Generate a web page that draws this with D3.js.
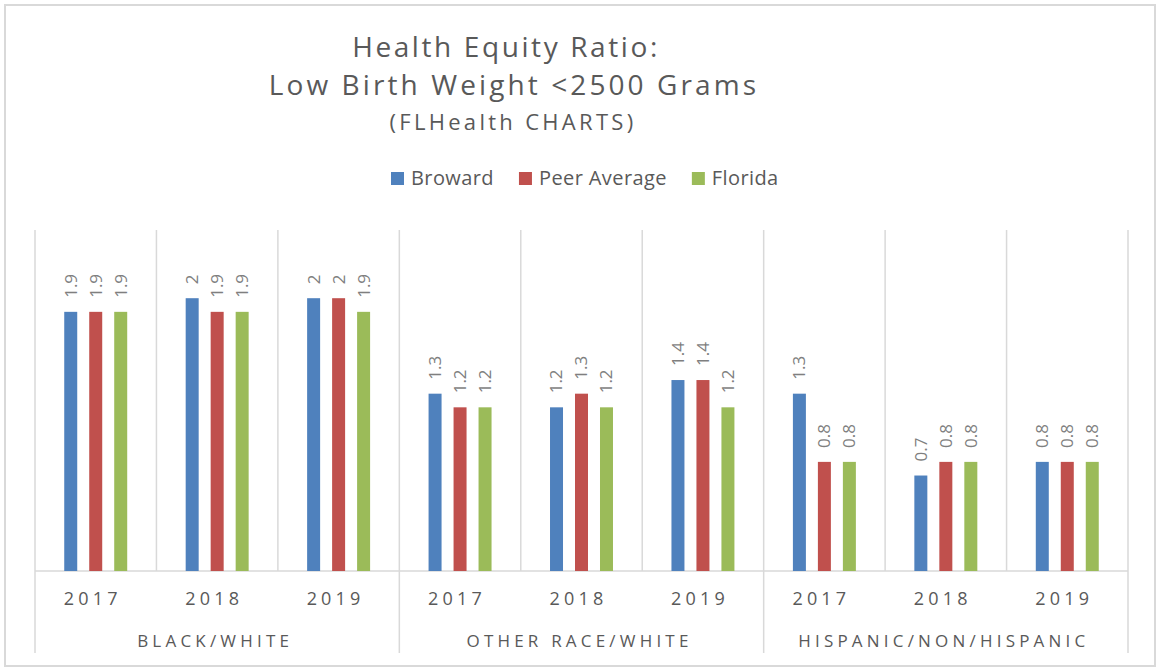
<!DOCTYPE html>
<html>
<head>
<meta charset="utf-8">
<script src="https://cdn.jsdelivr.net/npm/d3@7"></script>
<style>
  html, body { margin: 0; padding: 0; background: #ffffff; }
  svg { display: block; font-family: "Open Sans", "Liberation Sans", sans-serif; }
</style>
</head>
<body>
<svg id="chart" width="1159" height="667"></svg>
<script>
// Category structure
const groups = ["BLACK/WHITE", "OTHER RACE/WHITE", "HISPANIC/NON/HISPANIC"];
const years = ["2017", "2018", "2019"];
const seriesNames = ["Broward", "Peer Average", "Florida"];

// Health equity ratio per group/year (BLACK/WHITE 2017..2019, OTHER RACE/WHITE ..., HISPANIC ...)
const broward     = [1.9, 2.0, 2.0, 1.3, 1.2, 1.4, 1.3, 0.7, 0.8];
const peerAverage = [1.9, 1.9, 2.0, 1.2, 1.3, 1.4, 0.8, 0.8, 0.8];
const florida     = [1.9, 1.9, 1.9, 1.2, 1.2, 1.2, 0.8, 0.8, 0.8];

const titleLines = ["Health Equity Ratio:", "Low Birth Weight <2500 Grams", "(FLHealth CHARTS)"];

const colors = ["#4f81bd", "#c0504d", "#9bbb59"];
const seriesValues = [broward, peerAverage, florida];

// Flattened rows: one per group/year slot
const rows = [];
groups.forEach((g, gi) => {
  years.forEach((yr, yi) => {
    const i = gi * years.length + yi;
    rows.push({
      key: g + "|" + yr, group: g, year: yr,
      values: seriesNames.map((s, si) => ({ series: s, value: seriesValues[si][i], color: colors[si] }))
    });
  });
});

const svg = d3.select("#chart");
const plot = { left: 35, right: 1128, top: 230, bottom: 571 };
const gridColor = "#d9d9d9";
const textColor = "#595959";

// Outer chart border
svg.append("rect")
  .attr("x", 5).attr("y", 5).attr("width", 1150).attr("height", 661)
  .attr("fill", "#ffffff").attr("stroke", gridColor).attr("stroke-width", 2);

// Scales
const x0 = d3.scaleBand().domain(rows.map(r => r.key)).range([plot.left, plot.right]).padding(0);
const x1 = d3.scaleBand().domain(seriesNames).range([0, x0.bandwidth()])
  .paddingInner(0.48).paddingOuter(1.17);
const y = d3.scaleLinear().domain([0, 2.5]).range([plot.bottom, plot.top]);

// Title
const title = svg.append("g").attr("fill", textColor).attr("text-anchor", "middle");
const titleSpecs = [
  { text: titleLines[0], x: 506, y: 57, size: 28, ls: 2.6 },
  { text: titleLines[1], x: 514, y: 95, size: 28, ls: 3.1 },
  { text: titleLines[2], x: 513, y: 130, size: 22, ls: 3.3 }
];
titleSpecs.forEach(t => {
  title.append("text")
    .attr("x", t.x).attr("y", t.y)
    .attr("font-size", t.size)
    .attr("letter-spacing", t.ls)
    .text(t.text);
});

// Legend
const legend = svg.append("g").attr("transform", "translate(391,172)");
let lx = 0;
seriesNames.forEach((s, i) => {
  const item = legend.append("g").attr("transform", `translate(${lx},0)`);
  item.append("rect").attr("width", 13).attr("height", 13).attr("fill", colors[i]);
  const t = item.append("text").attr("x", 20).attr("y", 13)
    .attr("font-size", 20).attr("letter-spacing", 0.4).attr("fill", textColor).text(s);
  lx += 20 + t.node().getComputedTextLength() + 25;
});

// Vertical separators between year slots (to baseline) and between groups (down through labels)
const grid = svg.append("g").attr("stroke", gridColor).attr("stroke-width", 1.5);
const boundaries = rows.map(r => x0(r.key)).concat([plot.right]);
boundaries.forEach((bx, i) => {
  const isGroupEdge = i % years.length === 0;
  grid.append("line")
    .attr("x1", bx).attr("x2", bx)
    .attr("y1", plot.top).attr("y2", isGroupEdge ? 653 : plot.bottom);
});
grid.append("line")
  .attr("x1", plot.left).attr("x2", plot.right)
  .attr("y1", plot.bottom).attr("y2", plot.bottom);

// Bars
const slots = svg.append("g").selectAll("g.slot").data(rows).join("g")
  .attr("class", "slot")
  .attr("transform", d => `translate(${x0(d.key)},0)`);

slots.selectAll("rect").data(d => d.values).join("rect")
  .attr("x", d => x1(d.series))
  .attr("width", x1.bandwidth())
  .attr("y", d => y(d.value))
  .attr("height", d => y(0) - y(d.value))
  .attr("fill", d => d.color);

// Rotated value labels above bars
slots.selectAll("text.val").data(d => d.values).join("text")
  .attr("class", "val")
  .attr("transform", d => `translate(${x1(d.series) + x1.bandwidth() / 2},${y(d.value) - 14}) rotate(-90)`)
  .attr("dy", "0.35em")
  .attr("font-size", 17)
  .attr("fill", "#7f7f7f")
  .text(d => d3.format("~g")(d.value));

// Year tick labels
svg.append("g").selectAll("text").data(rows).join("text")
  .attr("x", d => x0(d.key) + x0.bandwidth() / 2 - 3)
  .attr("y", 605)
  .attr("text-anchor", "middle")
  .attr("font-size", 18)
  .attr("letter-spacing", 4.2)
  .attr("fill", textColor)
  .text(d => d.year);

// Group labels
svg.append("g").selectAll("text").data(groups).join("text")
  .attr("x", g => {
    const first = x0(g + "|" + years[0]);
    const last = x0(g + "|" + years[years.length - 1]) + x0.bandwidth();
    return (first + last) / 2 - 2;
  })
  .attr("y", 647)
  .attr("text-anchor", "middle")
  .attr("font-size", 17)
  .attr("letter-spacing", 4.2)
  .attr("fill", textColor)
  .text(d => d);
</script>
</body>
</html>
